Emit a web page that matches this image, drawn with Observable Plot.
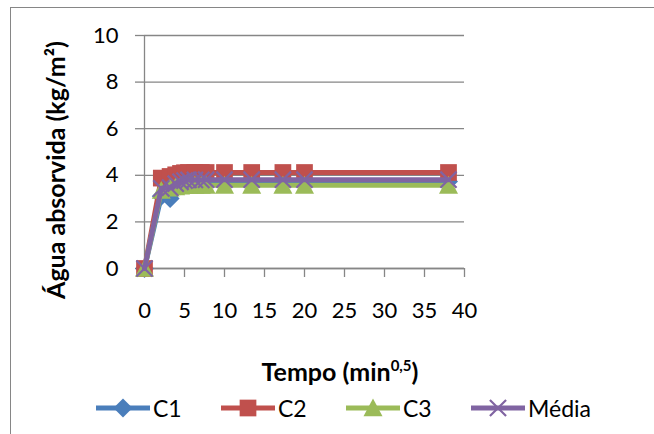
<!DOCTYPE html>
<html>
<head>
<meta charset="utf-8">
<script src="https://cdn.jsdelivr.net/npm/d3@7"></script>
<script src="https://cdn.jsdelivr.net/npm/@observablehq/plot@0.6"></script>
<style>
  html, body { margin: 0; padding: 0; background: #fff; }
  #wrap { position: relative; width: 654px; height: 434px; overflow: hidden; background: #fff; font-family: Lato, "Open Sans", sans-serif; }
  #border { position: absolute; left: 10px; top: 7px; width: 700px; height: 500px; border: 1px solid #868686; }
  #chart { position: absolute; left: 0; top: 0; }
  #xtitle { position: absolute; left: 0; width: 680px; top: 357px; text-align: center; font-weight: bold; font-size: 25px; line-height: 28px; }
  #xtitle sup { font-size: 15px; vertical-align: 10px; line-height: 0; }
  .leg { position: absolute; top: 395px; height: 26px; }
  .leg svg { position: absolute; left: 0; top: 0; }
  .leg span { position: absolute; top: 0; font-size: 23px; line-height: 26px; white-space: nowrap; }
</style>
</head>
<body>
<div id="wrap">
  <div id="border"></div>
  <div id="chart"></div>
  <div id="xtitle">Tempo (min<sup>0,5</sup>)</div>
  <div id="legend"></div>
</div>
<script>
// ---- data ----
const tempo = [0, 2.1, 3.2, 3.9, 4.5, 5.0, 5.5, 6.3, 7.1, 7.7, 10.0, 13.4, 17.3, 20.0, 38.0];
const c1    = [0, 3.10, 3.00, 3.40, 3.55, 3.65, 3.70, 3.72, 3.72, 3.73, 3.73, 3.73, 3.73, 3.73, 3.73];
const c2    = [0, 3.88, 3.95, 4.02, 4.08, 4.11, 4.12, 4.12, 4.12, 4.12, 4.12, 4.12, 4.12, 4.12, 4.12];
const c3    = [0, 3.35, 3.45, 3.50, 3.54, 3.56, 3.57, 3.57, 3.57, 3.57, 3.57, 3.57, 3.57, 3.57, 3.57];
const media = [0, 3.44, 3.47, 3.64, 3.72, 3.77, 3.80, 3.80, 3.80, 3.81, 3.81, 3.81, 3.81, 3.81, 3.81];
const seriesNames = ["C1", "C2", "C3", "Média"];
const xTicks = [0, 5, 10, 15, 20, 25, 30, 35, 40];
const yTicks = [0, 2, 4, 6, 8, 10];
const yTitle = "Água absorvida (kg/m²)";

// ---- symbols (Excel-like markers) ----
const rad = (size) => Math.sqrt(size / Math.PI);
const diamondSym = { draw(ctx, size) { const r = rad(size); ctx.moveTo(0, -r); ctx.lineTo(r, 0); ctx.lineTo(0, r); ctx.lineTo(-r, 0); ctx.closePath(); } };
const squareSym = { draw(ctx, size) { const h = rad(size) * 0.88; ctx.rect(-h, -h, 2 * h, 2 * h); } };
const triangleSym = { draw(ctx, size) { const r = rad(size); ctx.moveTo(0, -r); ctx.lineTo(r, 0.88 * r); ctx.lineTo(-r, 0.88 * r); ctx.closePath(); } };
const timesSym = { draw(ctx, size) { const h = rad(size) * 0.85; ctx.moveTo(-h, -h); ctx.lineTo(h, h); ctx.moveTo(h, -h); ctx.lineTo(-h, h); } };

const styles = [
  { color: "#4A7EBB", symbol: diamondSym, filled: true },
  { color: "#C0504D", symbol: squareSym, filled: true },
  { color: "#9BBB59", symbol: triangleSym, filled: true },
  { color: "#8064A2", symbol: timesSym, filled: false }
];
const values = [c1, c2, c3, media];
const R = 9.5;

const seriesMarks = [];
values.forEach((vals, k) => {
  const rows = tempo.map((t, i) => ({ t, v: vals[i], s: seriesNames[k] }));
  const st = styles[k];
  seriesMarks.push(Plot.line(rows, { x: "t", y: "v", stroke: st.color, strokeWidth: 5, strokeLinejoin: "round" }));
  seriesMarks.push(Plot.dot(rows, st.filled
    ? { x: "t", y: "v", symbol: st.symbol, r: R, fill: st.color, stroke: "none" }
    : { x: "t", y: "v", symbol: st.symbol, r: R, fill: "none", stroke: st.color, strokeWidth: 2.2 }));
});

const chart = Plot.plot({
  width: 654,
  height: 434,
  marginLeft: 144,
  marginRight: 190,
  marginTop: 35,
  marginBottom: 166,
  style: { fontFamily: "Lato, 'Open Sans', sans-serif", fontSize: "22px", color: "#000", background: "transparent", overflow: "visible" },
  x: { domain: [0, 40] },
  y: { domain: [0, 10] },
  marks: [
    Plot.gridY(yTicks, { stroke: "#868686", strokeOpacity: 1, strokeWidth: 1.3 }),
    Plot.axisY(yTicks, { tickSize: 9, tickPadding: 17, stroke: "#868686", strokeWidth: 1.3, fill: "#000", label: null }),
    Plot.axisX(xTicks, { tickSize: 9, tickPadding: 25, stroke: "#868686", strokeWidth: 1.3, fill: "#000", label: null }),
    Plot.ruleX([0], { stroke: "#868686", strokeWidth: 1.3 }),
    Plot.ruleY([0], { stroke: "#868686", strokeWidth: 1.3 }),
    ...seriesMarks,
    Plot.text([yTitle], { frameAnchor: "left", textAnchor: "middle", lineAnchor: "middle", rotate: -90, dx: -88, dy: 18, fontWeight: "bold", fontSize: 25, fill: "#000" })
  ]
});
document.getElementById("chart").appendChild(chart);

// ---- legend ----
const legLeft = [96, 221, 346, 471];
const legend = document.getElementById("legend");
seriesNames.forEach((name, k) => {
  const st = styles[k];
  const item = document.createElement("div");
  item.className = "leg";
  item.style.left = legLeft[k] + "px";
  const svg = d3.create("svg").attr("width", 56).attr("height", 26);
  svg.append("line").attr("x1", 0).attr("x2", 54).attr("y1", 13).attr("y2", 13)
    .attr("stroke", st.color).attr("stroke-width", 5);
  const path = d3.symbol(st.symbol, Math.PI * R * R)();
  const p = svg.append("path").attr("d", path).attr("transform", "translate(27,13)");
  if (st.filled) p.attr("fill", st.color); else p.attr("fill", "none").attr("stroke", st.color).attr("stroke-width", 2.2);
  item.appendChild(svg.node());
  const span = document.createElement("span");
  span.style.left = "57px";
  span.textContent = name;
  item.appendChild(span);
  legend.appendChild(item);
});
</script>
</body>
</html>
